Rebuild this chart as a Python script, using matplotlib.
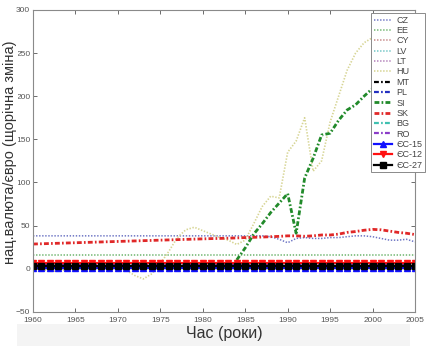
import matplotlib
matplotlib.use("Agg")
import matplotlib.pyplot as plt
from matplotlib.patches import Rectangle

plt.rcParams['font.family'] = ['Liberation Sans', 'DejaVu Sans']
plt.rcParams['lines.scale_dashes'] = False

years = list(range(1960, 2006))
n = len(years)

# national currency / euro
cz = [38, 38, 38, 38, 38, 38, 38, 38, 38, 38,
      38, 38, 38, 38, 38, 38, 38, 38, 38, 38,
      38, 38, 38, 38, 38, 38, 38, 38, 37, 34,
      30, 35, 36, 35, 35, 36, 36, 37, 38, 38,
      37, 35, 33, 33, 34, 31]
ee = [15.6] * n
cy = [0.6] * n
lv = [0.7] * n
lt = [3.5] * n
hu = [2, -1, -3, -3, -1, 0, 1, 1, 1, 1,
      1, -2, -8, -12, -6, 6, 20, 36, 45, 48,
      44, 40, 36, 33, 28, 33, 52, 72, 84, 82,
      135, 148, 175, 113, 125, 170, 200, 230, 250, 262,
      268, 262, 252, 255, 256, 258]
mt = [0.4] * n
pl = [4.0] * n
si_years = list(range(1984, 2006))
si = [10, 24, 40, 52, 65, 76, 87, 41, 105, 128,
      155, 157, 172, 184, 190, 200, 209, 218, 226, 233,
      238, 240]
sk = [28.5, 28.8, 29.1, 29.4, 29.7, 30.0, 30.3, 30.6, 30.9, 31.2,
      31.5, 31.8, 32.1, 32.4, 32.7, 33.0, 33.3, 33.6, 33.9, 34.2,
      34.5, 34.8, 35.0, 35.3, 35.6, 36.0, 36.3, 36.6, 37.0, 37.4,
      38, 38, 37.5, 38, 39, 39, 40, 42, 43, 44.5,
      45.5, 45, 43.5, 42, 41, 39.5]
bg = [1.9] * n
ro = [3.6] * n
ec15 = [0.8] * n
ec12 = [6.5] * n
ec27 = [3.0] * n

dot = (0, (1.0, 1.2))
dashdot = (0, (3.5, 1.6, 1.2, 1.6))

fig = plt.figure(figsize=(4.26, 3.46), dpi=100)
fig.patches.append(Rectangle((17 / 426, 0), 393 / 426, 22 / 346, transform=fig.transFigure,
                             facecolor='#f4f4f4', edgecolor='none', zorder=-10))
ax = fig.add_axes([33 / 426, (346 - 311.7) / 346, (415 - 33) / 426, (311.7 - 10) / 346])

ax.plot(years, cz, linestyle=dot, color='#6c74c4', lw=1.1, label='CZ')
ax.plot(years, ee, linestyle=dot, color='#6cb46c', lw=1.1, label='EE')
ax.plot(years, cy, linestyle=dot, color='#c48484', lw=1.1, label='CY')
ax.plot(years, lv, linestyle=dot, color='#6cc4c4', lw=1.1, label='LV')
ax.plot(years, lt, linestyle=dot, color='#b07cb8', lw=1.1, label='LT')
ax.plot(years, hu, linestyle=dot, color='#d6d492', lw=1.2, label='HU')
ax.plot(years, mt, linestyle=dashdot, color='black', lw=1.6, label='MT')
ax.plot(years, pl, linestyle=dashdot, color='#2430c0', lw=1.6, label='PL')
ax.plot(si_years, si, linestyle=dashdot, color='#218a2a', lw=2.0, label='SI')
ax.plot(years, sk, linestyle=dashdot, color='#e02828', lw=2.0, label='SK')
ax.plot(years, bg, linestyle=dashdot, color='#40c0b0', lw=1.6, label='BG')
ax.plot(years, ro, linestyle=dashdot, color='#8a3cc8', lw=1.6, label='RO')
ax.plot(years, ec15, '-^', color='#1010ff', lw=1.6, ms=4.5, label='ЄС-15')
ax.plot(years, ec12, '-v', color='#ff1010', lw=1.6, ms=5, label='ЄС-12')
ax.plot(years, ec27, '-s', color='black', lw=1.6, ms=4.5, label='ЄС-27')

ax.set_xlim(1960, 2005)
ax.set_ylim(-50, 300)
ax.set_xticks(range(1960, 2006, 5))
ax.set_yticks(range(-50, 301, 50))
ax.tick_params(direction='in', length=3, width=0.6, labelsize=6, colors='#555555',
               top=True, right=True)
ax.tick_params(axis='x', pad=3.5)
ax.tick_params(axis='y', pad=2)
for s in ax.spines.values():
    s.set_color('#8a8a8a')
    s.set_linewidth(0.8)

ax.set_xlabel('Час (роки)', fontsize=11.5, color='#333333', labelpad=2)
ax.set_ylabel('нац.валюта/євро (щорічна зміна)', fontsize=10.5, color='#333333',
              bbox=dict(facecolor='white', edgecolor='none', pad=0.5))
ax.yaxis.set_label_coords(-0.042, 0.53)

leg = ax.legend(loc='upper right', bbox_to_anchor=(425 / 426, (346 - 13) / 346),
                bbox_transform=fig.transFigure, borderaxespad=0, fontsize=6.5,
                labelspacing=0.15, handlelength=2.0, handletextpad=0.5,
                borderpad=0.3, fancybox=False, framealpha=1, edgecolor='#8a8a8a')
leg.get_frame().set_linewidth(0.7)
for t in leg.get_texts():
    t.set_color('#444444')

fig.savefig('out.png', dpi=100)
